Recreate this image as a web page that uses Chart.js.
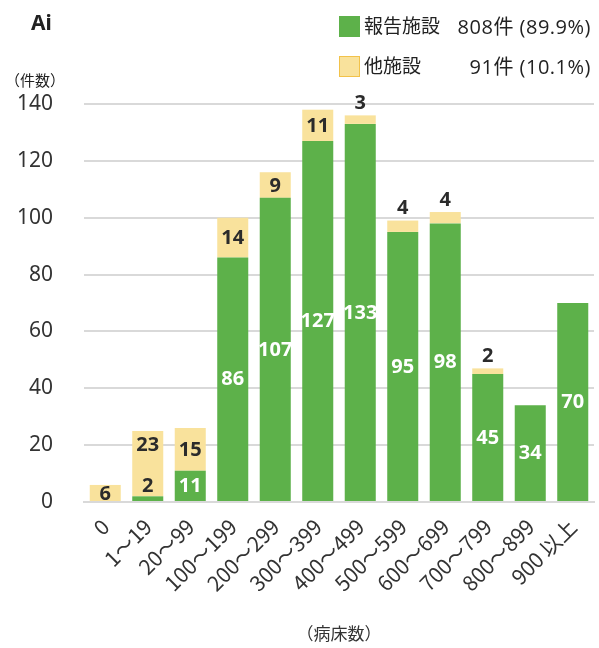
<!DOCTYPE html>
<html>
<head>
<meta charset="utf-8">
<script src="https://cdn.jsdelivr.net/npm/chart.js@4.4.1/dist/chart.umd.min.js"></script>
<style>
  body { margin: 0; background: #fff; font-family: "Noto Sans CJK JP", "Noto Sans", sans-serif; color: #222; }
  #wrap { position: relative; width: 599px; height: 648px; }
  .txt { position: absolute; white-space: pre; }
  .sw { position: absolute; width: 21px; height: 21px; box-sizing: border-box; }
  .leg { font-size: 19px; }
  .num { font: 20px "Open Sans", "Noto Sans CJK JP", sans-serif; letter-spacing: 0.5px; right: 8px; }
</style>
</head>
<body>
<div id="wrap">
  <canvas id="beds" width="599" height="648"></canvas>
  <div class="txt" style="left:31px;top:8px;font:bold 21px 'Noto Sans',sans-serif;">Ai</div>
  <div class="txt" style="left:5px;top:69px;font-size:15px;">（件数）</div>
  <div class="sw" style="left:339px;top:16px;background:#5db14a;"></div>
  <div class="txt leg" style="left:364px;top:11px;">報告施設</div>
  <div class="txt num" style="top:11px;">808件 (89.9%)</div>
  <div class="sw" style="left:339px;top:56px;background:#f9e29c;border:1px solid #f2c24a;"></div>
  <div class="txt leg" style="left:364px;top:51px;">他施設</div>
  <div class="txt num" style="top:51px;">91件 (10.1%)</div>
</div>
<script>
const categories = ['0', '1〜19', '20〜99', '100〜199', '200〜299', '300〜399', '400〜499', '500〜599', '600〜699', '700〜799', '800〜899', '900 以上'];
const reported = [0, 2, 11, 86, 107, 127, 133, 95, 98, 45, 34, 70];
const others = [6, 23, 15, 14, 9, 11, 3, 4, 4, 2, 0, 0];
const yTicks = [0, 20, 40, 60, 80, 100, 120, 140];

// value labels: green ones white in the middle, yellow ones dark inside or just above
const barLabels = {
    id: 'barLabels',
    afterDatasetsDraw(chart) {
        const ctx = chart.ctx;
        const y = chart.scales.y;
        ctx.save();
        ctx.font = 'bold 20px "Noto Sans", sans-serif';
        ctx.textAlign = 'center';
        ctx.textBaseline = 'middle';
        const green = chart.getDatasetMeta(0).data;
        const yellow = chart.getDatasetMeta(1).data;
        categories.forEach((c, i) => {
            const r = reported[i], o = others[i];
            if (r > 0) {
                const top = y.getPixelForValue(r), base = y.getPixelForValue(0);
                if (base - top > 22) {
                    ctx.fillStyle = '#fff';
                    ctx.fillText(r, green[i].x, (top + base) / 2);
                } else {
                    ctx.fillStyle = '#2b2b2b';
                    ctx.fillText(r, green[i].x, top - 10);
                }
            }
            if (o > 0) {
                const top = y.getPixelForValue(r + o), base = y.getPixelForValue(r);
                ctx.fillStyle = '#2b2b2b';
                if (base - top < 16) {
                    ctx.fillText(o, yellow[i].x, top - 12);
                } else if (r > 0 && base - y.getPixelForValue(0) > -22) {
                    ctx.fillText(o, yellow[i].x, top + 14);
                } else {
                    ctx.fillText(o, yellow[i].x, (top + base) / 2 + 1);
                }
            }
        });
        ctx.restore();
    }
};

const ctx = document.getElementById('beds').getContext('2d');
const chart = new Chart(ctx, {
    type: 'bar',
    data: {
        labels: categories,
        datasets: [{
            label: '報告施設',
            data: reported,
            backgroundColor: '#5db14a',
            categoryPercentage: 1,
            barPercentage: 0.73
        }, {
            label: '他施設',
            data: others,
            backgroundColor: '#f9e29c',
            categoryPercentage: 1,
            barPercentage: 0.73
        }]
    },
    options: {
        responsive: false,
        animation: false,
        layout: { padding: { top: 104, right: 5, left: 0, bottom: 4 } },
        plugins: {
            legend: { display: false },
            tooltip: { enabled: false }
        },
        scales: {
            x: {
                stacked: true,
                grid: { display: false, drawTicks: false },
                border: { color: '#d9d9d9', width: 2 },
                ticks: {
                    color: '#333',
                    font: { size: 21, family: '"Noto Sans CJK JP", sans-serif' },
                    maxRotation: 45,
                    minRotation: 45,
                    padding: 12
                },
                title: {
                    display: true,
                    text: '（病床数）',
                    color: '#333',
                    font: { size: 17, family: '"Noto Sans CJK JP", sans-serif' },
                    padding: { top: 0, bottom: 0 }
                },
                afterFit(scale) {
                    scale.height = 142;
                    scale.paddingRight = 0;
                    scale.paddingLeft = 0;
                }
            },
            y: {
                stacked: true,
                min: 0,
                max: 140,
                afterBuildTicks(scale) { scale.ticks = yTicks.map(v => ({ value: v })); },
                grid: { color: '#d9d9d9', lineWidth: 2, drawTicks: false },
                border: { display: false },
                ticks: {
                    color: '#333',
                    padding: 31,
                    font: { size: 21, family: '"Noto Sans", sans-serif' }
                },
                afterFit(scale) { scale.width = 84; }
            }
        }
    },
    plugins: [barLabels]
});
</script>
</body>
</html>
